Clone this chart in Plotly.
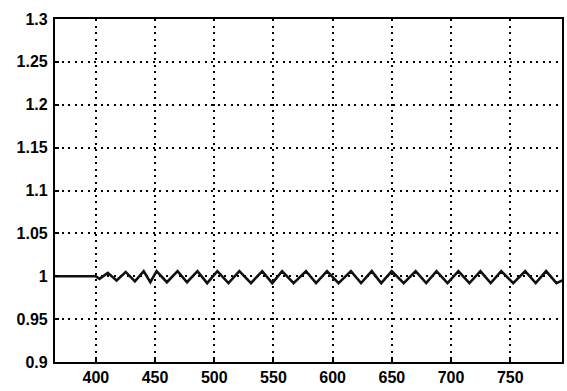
import plotly.graph_objects as go

x_vals = [365, 400, 403, 410.1, 417.5, 425.2, 433, 440.4, 446, 451.3, 460, 469.0, 477, 485.8, 494,
          502.6, 512, 521.2, 531, 540.5, 549, 557.3, 567, 577.5, 586, 595.2, 605, 615.4, 624,
          633.0, 641, 649.9, 660, 670.1, 679, 687.7, 697, 706.2, 715.5, 724.8, 733.5, 742.4,
          752.5, 762.6, 771.5, 780.3, 789, 794]
y_vals = [1.0, 1.0, 0.997, 1.004, 0.995, 1.005, 0.994, 1.006, 0.993, 1.006, 0.993, 1.006, 0.993, 1.006, 0.992,
          1.006, 0.992, 1.006, 0.992, 1.006, 0.992, 1.006, 0.992, 1.006, 0.992, 1.006, 0.992, 1.006, 0.992,
          1.006, 0.992, 1.006, 0.992, 1.006, 0.992, 1.006, 0.992, 1.006, 0.992, 1.006, 0.992, 1.006,
          0.992, 1.006, 0.992, 1.006, 0.992, 0.995]

x_ticks = [400, 450, 500, 550, 600, 650, 700, 750]
y_ticks = [0.9, 0.95, 1.0, 1.05, 1.1, 1.15, 1.2, 1.25, 1.3]
y_tick_text = ["0.9", "0.95", "1", "1.05", "1.1", "1.15", "1.2", "1.25", "1.3"]

fig = go.Figure()
fig.add_trace(go.Scatter(x=x_vals, y=y_vals, mode="lines",
                         line=dict(color="#111111", width=2.6), showlegend=False))

axis_font = dict(family="Liberation Sans, Arial, sans-serif", size=16, color="#000000")
fig.update_layout(
    width=567, height=391,
    margin=dict(l=55, r=3, t=19, b=29),
    paper_bgcolor="white", plot_bgcolor="white",
    font=axis_font,
    xaxis=dict(range=[365.5, 793.7], tickvals=x_ticks, ticktext=[f"<b>{v}</b>" for v in x_ticks],
               showgrid=True, gridcolor="#000000", gridwidth=2, griddash="2px,4.5px",
               showline=True, linecolor="#000000", linewidth=2.2, mirror=True,
               ticks="inside", ticklen=4, tickcolor="#000000", tickwidth=2,
               zeroline=False, tickfont=axis_font),
    yaxis=dict(range=[0.9, 1.3], tickvals=y_ticks, ticktext=[f"<b>{t}</b>" for t in y_tick_text],
               showgrid=True, gridcolor="#000000", gridwidth=2, griddash="2px,4.5px",
               showline=True, linecolor="#000000", linewidth=2.2, mirror=True,
               ticks="inside", ticklen=4, tickcolor="#000000", tickwidth=2,
               zeroline=False, tickfont=axis_font, ticklabelstandoff=2),
)
fig.write_html("out.html", config={"displayModeBar": False},
               post_script="document.body.style.margin='0';document.body.style.padding='0';")
